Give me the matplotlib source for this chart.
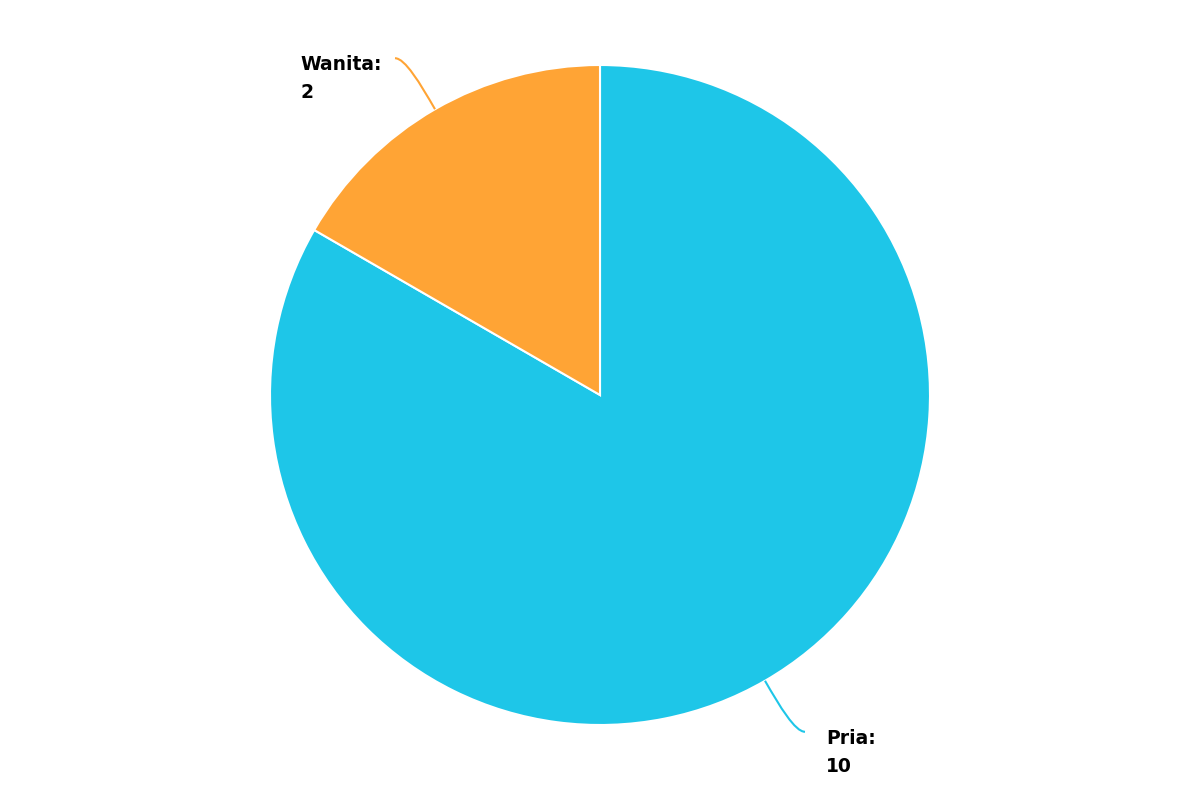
import numpy as np
import matplotlib.pyplot as plt
from matplotlib.path import Path
from matplotlib.patches import PathPatch

# data
labels = ["Pria", "Wanita"]
values = [10, 2]
colors = ["#1ec6e8", "#ffa435"]

W, H = 1200, 800
cx, cy, r = 600, H - 395, 330

fig = plt.figure(figsize=(12, 8), dpi=100)
ax = fig.add_axes([0, 0, 1, 1])

wedges, _ = ax.pie(values, colors=colors, startangle=90, counterclock=False,
                   center=(cx, cy), radius=r,
                   wedgeprops=dict(edgecolor="white", linewidth=1.5))
ax.set_xlim(0, W)
ax.set_ylim(0, H)
ax.set_aspect("equal")
ax.axis("off")

# connectors + labels
for w, lab, val, col in zip(wedges, labels, values, colors):
    mid = np.deg2rad((w.theta1 + w.theta2) / 2)
    ux, uy = np.cos(mid), np.sin(mid)
    side = 1 if ux > 0 else -1
    p0 = (cx + r * ux, cy + r * uy)
    p1 = (cx + (r + 30) * ux, cy + (r + 30) * uy)
    p3 = (p0[0] + 40 * side, p0[1] + 51 * np.sign(uy))
    p2 = (p3[0] - 10 * side, p3[1])
    path = Path([p0, p1, p2, p3], [Path.MOVETO, Path.CURVE4, Path.CURVE4, Path.CURVE4])
    ax.add_patch(PathPatch(path, facecolor="none", edgecolor=col, lw=1.5))
    tx = p3[0] + 21 if side > 0 else p3[0] - 95
    ax.text(tx, p3[1] - 40, f"{lab}:\n{val}", ha="left", va="baseline",
            fontsize=13.5, fontweight="bold", linespacing=1.6,
            family="DejaVu Sans", color="black")

fig.savefig("out.png", dpi=100)
